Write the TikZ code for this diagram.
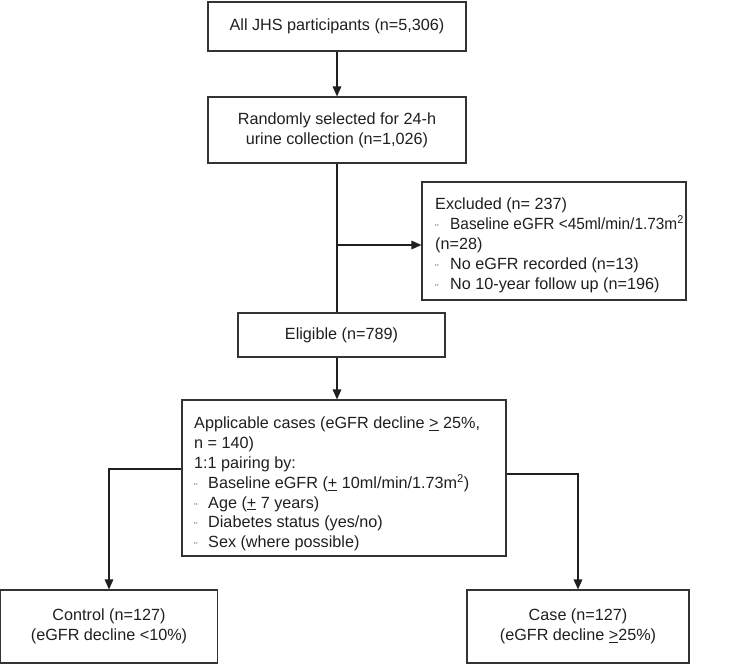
\documentclass[tikz,border=0pt]{standalone}
\usepackage{fontspec}
\setmainfont{Liberation Sans}
\usetikzlibrary{arrows.meta}
\newcommand{\bul}[1]{\makebox[#1][l]{\raisebox{-3pt}{\fontsize{11}{11}\selectfont ¨}}}
\begin{document}
\begin{tikzpicture}[x=1pt,y=-1pt,
  box/.style={draw=black!80, line width=1.1pt, inner sep=0pt},
  txt/.style={font=\fontsize{16.2}{19.8}\selectfont, text=black!88},
  conn/.style={draw=black!88, line width=1.4pt},
  arr/.style={conn, -{Triangle[width=8.5pt,length=10pt]}}]
\useasboundingbox (0,0) rectangle (739,664);
% boxes
\node[box, txt, minimum width=258, minimum height=49] (all) at (337,26.5) {All JHS participants (n=5,306)};
\node[box, txt, align=center, minimum width=258, minimum height=66] (sel) at (337,130) {Randomly selected for 24-h\\urine collection (n=1,026)};
\node[box, minimum width=264, minimum height=118] (exc) at (554,241) {};
\node[txt, inner sep=0pt, align=left, anchor=north west] (exct) at (435,198) {Excluded (n= 237)\\
\bul{15pt}\scalebox{0.95}[1]{Baseline eGFR <45ml/min/1.73m\textsuperscript{2}}\\
(n=28)\\
\bul{15pt}No eGFR recorded (n=13)\\
\bul{15pt}No 10-year follow up (n=196)};
\node[box, txt, minimum width=207, minimum height=44] (elig) at (341.5,335) {Eligible (n=789)};
\node[box, minimum width=324, minimum height=156] (app) at (344,478) {};
\node[txt, inner sep=0pt, align=left, anchor=north west] (appt) at (194,417) {Applicable cases (eGFR decline \underline{>} 25\%,\\
n = 140)\\
1:1 pairing by:\\
\bul{14pt}Baseline eGFR (\underline{+} 10ml/min/1.73m\textsuperscript{2})\\
\bul{14pt}Age (\underline{+} 7 years)\\
\bul{14pt}Diabetes status (yes/no)\\
\bul{14pt}Sex (where possible)};
\node[box, txt, align=center, minimum width=217, minimum height=73] (ctl) at (109,626.5) {Control (n=127)\\(eGFR decline <10\%)};
\node[box, txt, align=center, minimum width=222, minimum height=73] (case) at (578,626.5) {Case (n=127)\\(eGFR decline \underline{>}25\%)};
% connectors
\draw[arr] (all.south) -- (sel.north);
\draw[conn] (sel.south) -- (sel.south |- elig.north);
\coordinate (br) at (337,245);
\draw[arr] (br) -- (br -| exc.west);
\coordinate (eb) at (elig.south -| sel.south);
\draw[arr] (eb) -- (eb |- app.north);
\coordinate (al) at (app.west |- 0,469);
\draw[arr] (al) -| (ctl.north);
\coordinate (ar) at (app.east |- 0,474);
\draw[arr] (ar) -| (case.north);
\end{tikzpicture}
\end{document}
